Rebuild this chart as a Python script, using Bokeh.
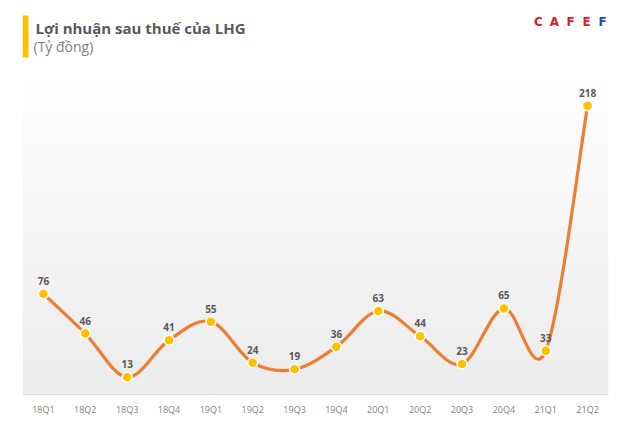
import numpy as np
from bokeh.plotting import figure
from bokeh.models import FixedTicker, Range1d, ColumnDataSource
from bokeh.core.properties import value
from bokeh.embed import file_html
from bokeh.resources import INLINE

# ---- data ----
quarters = ["18Q1", "18Q2", "18Q3", "18Q4", "19Q1", "19Q2", "19Q3",
            "19Q4", "20Q1", "20Q2", "20Q3", "20Q4", "21Q1", "21Q2"]
profit = [76, 46, 13, 41, 55, 24, 19, 36, 63, 44, 23, 65, 33, 218]

title_text = "Lợi nhuận sau thuế của LHG"
unit_text = "(Tỷ đồng)"
logo_letters = ["C", "A", "F", "E", "F"]
logo_colors = ["#D9202A", "#D9202A", "#D9202A", "#D9202A", "#1F4E9E"]

FONT = "Open Sans"
n = len(quarters)
xs = np.arange(n, dtype=float)
ys = np.array(profit, dtype=float)

# layout geometry (page pixels)
W, H = 630, 438
LEFT, RIGHT, BOTTOM = 22, 608, 394
PX_PER_UNIT = 1.325
Y_TOP = BOTTOM / PX_PER_UNIT          # frame reaches the top of the canvas
PLOT_TOP_VAL = 240                    # top of the grey plot area

def dx(px):
    return -0.5 + (px - LEFT) / ((RIGHT - LEFT) / n)

def dy(py):
    return (BOTTOM - py) / PX_PER_UNIT

p = figure(width=W, height=H,
           x_range=Range1d(-0.5, n - 0.5), y_range=Range1d(0, Y_TOP),
           output_backend="svg", toolbar_location=None,
           y_axis_location=None,
           min_border_left=LEFT, min_border_right=W - RIGHT,
           min_border_top=0, min_border_bottom=H - BOTTOM)
p.background_fill_color = "white"
p.border_fill_color = "white"
p.outline_line_color = None
p.xgrid.visible = False
p.ygrid.visible = False

# gradient background of the plot area (white at top -> light grey at bottom)
rows = 120
t = np.linspace(0, 1, rows)  # 0 bottom, 1 top
top_c = np.array([255, 255, 255])
bot_c = np.array([236, 236, 236])
img = np.zeros((rows, 1), dtype=np.uint32)
view = img.view(dtype=np.uint8).reshape((rows, 1, 4))
for r in range(rows):
    c = bot_c + (top_c - bot_c) * t[r]
    view[r, 0, 0] = int(c[0]); view[r, 0, 1] = int(c[1]); view[r, 0, 2] = int(c[2]); view[r, 0, 3] = 255
p.image_rgba(image=[img], x=-0.5, y=0, dw=n, dh=PLOT_TOP_VAL, level="image")

# smoothed line (Catmull-Rom as cubic Bezier segments)
P = np.column_stack([xs, ys])
seg = dict(x0=[], y0=[], x1=[], y1=[], cx0=[], cy0=[], cx1=[], cy1=[])
for i in range(n - 1):
    pm = P[max(i - 1, 0)]; p0 = P[i]; p1 = P[i + 1]; p2 = P[min(i + 2, n - 1)]
    c0 = p0 + (p1 - pm) / 6.0
    c1 = p1 - (p2 - p0) / 6.0
    seg["x0"].append(p0[0]); seg["y0"].append(p0[1])
    seg["x1"].append(p1[0]); seg["y1"].append(p1[1])
    seg["cx0"].append(c0[0]); seg["cy0"].append(c0[1])
    seg["cx1"].append(c1[0]); seg["cy1"].append(c1[1])
p.bezier(x0="x0", y0="y0", x1="x1", y1="y1", cx0="cx0", cy0="cy0",
         cx1="cx1", cy1="cy1", source=ColumnDataSource(seg),
         line_color="#ED7D31", line_width=3.2, line_cap="round")

src = ColumnDataSource(dict(x=xs, y=ys, lab=[str(v) for v in profit]))
p.scatter(x="x", y="y", source=src, size=10, fill_color="#FFC000",
          line_color="white", line_width=1.5)
p.text(x="x", y="y", text="lab", source=src, y_offset=-9,
       text_align="center", text_baseline="bottom",
       text_font=value(FONT), text_font_style="bold",
       text_font_size="10px", text_color="#595959")

# x axis
ax = p.xaxis[0]
ax.ticker = FixedTicker(ticks=list(range(n)))
ax.major_label_overrides = {i: q for i, q in enumerate(quarters)}
ax.major_tick_out = 0
ax.major_tick_in = 0
ax.minor_tick_out = 0
ax.minor_tick_in = 0
ax.axis_line_color = "#D9D9D9"
ax.axis_line_width = 1
ax.major_label_standoff = 8
ax.major_label_text_font = FONT
ax.major_label_text_font_size = "9px"
ax.major_label_text_color = "#7F7F7F"

# title block
p.quad(left=[dx(22)], right=[dx(28)], top=[dy(15)], bottom=[dy(57)],
       fill_color="#FFC000", line_color=None)
p.text(x=[dx(35)], y=[dy(27)], text=[title_text],
       text_font=value(FONT), text_font_style="bold", text_font_size="15px",
       text_color="#595959", text_baseline="alphabetic", text_align="left")
p.text(x=[dx(33)], y=[dy(46)], text=[unit_text],
       text_font=value(FONT), text_font_size="14px",
       text_color="#7F7F7F", text_baseline="alphabetic", text_align="left")

# CAFEF logo
p.text(x=[dx(538 + 16 * k) for k in range(len(logo_letters))],
       y=[dy(21)] * len(logo_letters), text=logo_letters,
       text_color=logo_colors, text_font=value("DejaVu Sans"),
       text_font_style="bold", text_font_size="12px",
       text_baseline="alphabetic", text_align="center")

open("out.html", "w").write(file_html(p, INLINE))
